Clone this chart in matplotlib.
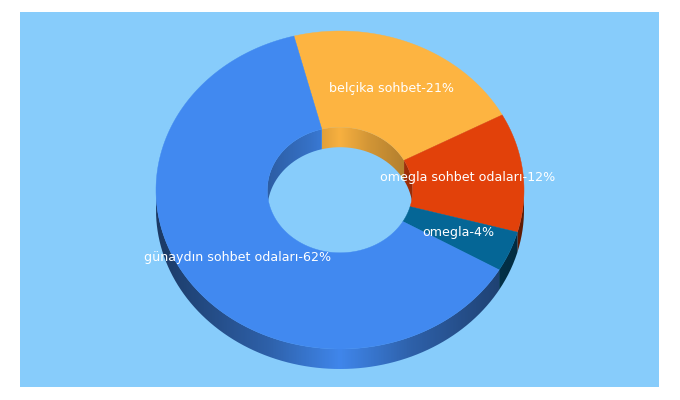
import numpy as np
import matplotlib
matplotlib.use("Agg")
import matplotlib.pyplot as plt
from matplotlib.colors import LinearSegmentedColormap, to_rgb
from matplotlib.patches import Polygon, Rectangle
from matplotlib.path import Path

# slices, clockwise from the top of the ring
labels = ["belçika sohbet", "omegla sohbet odaları", "omegla", "günaydın sohbet odaları"]
shares = [21.2, 12.1, 4.1, 62.6]
percents = [21, 12, 4, 62]
colors = ["#fdb441", "#e2410a", "#056696", "#4189f0"]

start_angle = -14.5
bg = "#87ccfb"

# ring geometry in pixels
cx, cy = 340, 190
rx, ry = 184, 159
hole = 0.395
depth = 20


def arc(a0, a1, rad, dy=0):
    t = np.radians(np.linspace(a0, a1, 240))
    return np.column_stack([cx + rad * rx * np.sin(t), cy + dy - rad * ry * np.cos(t)])


def wall(a0, a1, rad, color, edge):
    # side of the ring, darker away from the middle
    if a1 <= a0:
        return
    pts = np.vstack([arc(a0, a1, rad), arc(a0, a1, rad, depth)[::-1]])
    base = np.array(to_rgb(color))
    mid = base * (edge + 0.98) / 2
    cmap = LinearSegmentedColormap.from_list(
        "side", [(0, base * edge), (0.3, mid), (0.5, base * 0.98), (0.7, mid), (1, base * edge)])
    grad = np.linspace(0, 1, 400).reshape(1, -1)
    left, right = cx - rad * rx, cx + rad * rx
    im = ax.imshow(grad, extent=(left, right, cy + ry + depth, cy - ry), cmap=cmap,
                   aspect="auto", zorder=2, interpolation="bilinear")
    im.set_clip_path(Path(np.vstack([pts, pts[:1]])), transform=ax.transData)


fig = plt.figure(figsize=(6.8, 4), dpi=100, facecolor="white")
ax = fig.add_axes([0, 0, 1, 1])
ax.axis("off")
ax.add_patch(Rectangle((20, 12), 639, 375, facecolor=bg, edgecolor="none", zorder=0))

edges = start_angle + np.cumsum([0] + shares) * 3.6

for i in range(len(shares)):
    a0, a1 = edges[i], edges[i + 1]
    # back of the hole, then front of the outer rim
    wall(max(a0, -90), min(a1, 90), hole, colors[i], 0.68)
    wall(max(a0, 90), min(a1, 270), 1, colors[i], 0.42)
    wall(max(a0, 270), min(a1, 345.5), hole, colors[i], 0.68)

for i in range(len(shares)):
    a0, a1 = edges[i], edges[i + 1]
    pts = np.vstack([arc(a0, a1, 1), arc(a0, a1, hole)[::-1]])
    ax.add_patch(Polygon(pts, closed=True, facecolor=colors[i], edgecolor=colors[i],
                         linewidth=0.3, zorder=3))

for i in range(len(shares)):
    mid = np.radians((edges[i] + edges[i + 1]) / 2)
    rad = (1 + hole) / 2
    ax.text(cx + rad * rx * np.sin(mid), cy - rad * ry * np.cos(mid),
            f"{labels[i]}-{percents[i]}%", color="white", fontsize=9.1,
            family="DejaVu Sans", ha="center", va="center", zorder=5)

ax.set_xlim(0, 680)
ax.set_ylim(400, 0)
fig.savefig("out.png", dpi=100, facecolor="white")
